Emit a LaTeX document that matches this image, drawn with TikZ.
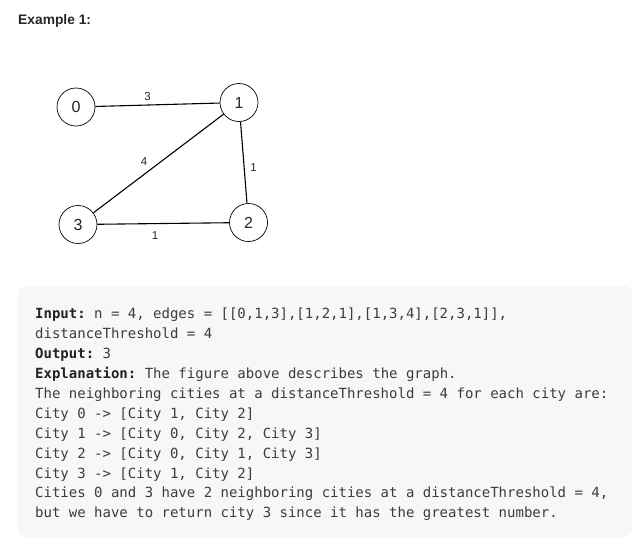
\documentclass[tikz,border=0pt]{standalone}
\usepackage{fontspec}
\setmainfont{Liberation Sans}
\setsansfont{Liberation Sans}
\setmonofont{DejaVu Sans Mono}
\frenchspacing
\definecolor{boxbg}{HTML}{F7F7F7}
\definecolor{codetxt}{HTML}{3C3C3C}
\definecolor{codebold}{HTML}{222222}
\definecolor{titletxt}{HTML}{262626}
\begin{document}
\begin{tikzpicture}[x=1pt,y=-1pt,
  city/.style={circle,draw=black,line width=0.7pt,minimum size=38pt,inner sep=0pt,
    font=\fontsize{16}{16}\selectfont\sffamily,text=black!85},
  road/.style={draw=black,line width=1.1pt},
  wlabel/.style={font=\fontsize{11.5}{11.5}\selectfont\sffamily,text=black!85,inner sep=0pt},
  codeline/.style={anchor=base west,inner sep=0pt,text=codetxt,
    font=\fontsize{14}{14}\selectfont\ttfamily},
  hd/.style={font=\bfseries,text=codebold}]
\useasboundingbox[fill=white] (0,0) rectangle (640,539);
% title
\node[anchor=base west,inner sep=0pt,text=titletxt,font=\fontsize{13.8}{14}\selectfont\sffamily\bfseries] (title) at (18,24) {Example 1:};
% graph
\node[city] (c0) at (76,107) {0};
\node[city] (c1) at (239,102.5) {1};
\node[city] (c2) at (248.5,222.5) {2};
\node[city] (c3) at (78,224.5) {3};
\draw[road] (c0) -- (c1);
\draw[road] (c1) -- (c2);
\draw[road] (c1) -- (c3);
\draw[road] (c3) -- (c2);
\node[wlabel] (w01) at (147.5,97) {3};
\node[wlabel] (w13) at (144,161.5) {4};
\node[wlabel] (w12) at (253.5,167.5) {1};
\node[wlabel] (w32) at (155,235.5) {1};
% code box
\fill[boxbg,rounded corners=8pt] (18,286) rectangle (632,537);
\node[codeline] (l1) at (35,318) {{\bfseries\color{codebold}Input:} n = 4, edges = [[0,1,3],[1,2,1],[1,3,4],[2,3,1]],};
\node[codeline] (l2) at (35,338) {distanceThreshold = 4};
\node[codeline] (l3) at (35,358) {{\bfseries\color{codebold}Output:} 3};
\node[codeline] (l4) at (35,378) {{\bfseries\color{codebold}Explanation:} The figure above describes the graph.};
\node[codeline] (l5) at (35,398) {The neighboring cities at a distanceThreshold = 4 for each city are:};
\node[codeline] (l6) at (35,418) {City 0 -> [City 1, City 2]};
\node[codeline] (l7) at (35,438) {City 1 -> [City 0, City 2, City 3]};
\node[codeline] (l8) at (35,458) {City 2 -> [City 0, City 1, City 3]};
\node[codeline] (l9) at (35,478) {City 3 -> [City 1, City 2]};
\node[codeline] (l10) at (35,497.5) {Cities 0 and 3 have 2 neighboring cities at a distanceThreshold = 4,};
\node[codeline] (l11) at (35,517) {but we have to return city 3 since it has the greatest number.};
\end{tikzpicture}
\end{document}
